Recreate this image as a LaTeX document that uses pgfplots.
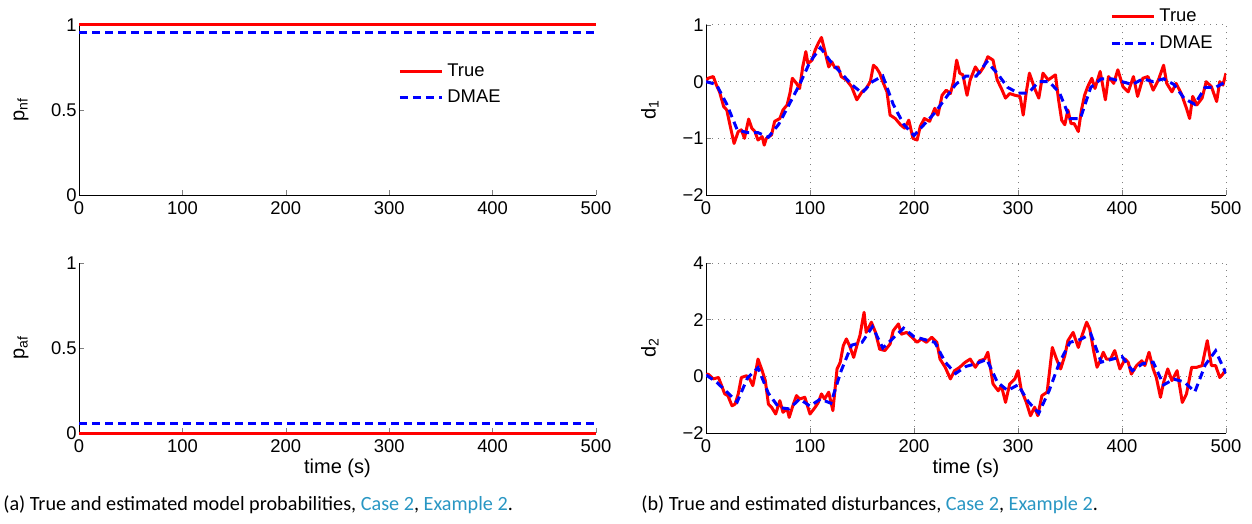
\documentclass[border=0pt]{standalone}
\usepackage{fontspec}
\setmainfont{Liberation Sans}
\newfontfamily\capfont{Carlito}
\usepackage{pgfplots}
\pgfplotsset{compat=1.18}
\definecolor{linkblue}{RGB}{40,150,195}

% d1: true and estimated
\pgfplotstableread{
x y
0 0.02
2 0.06
7 0.09
10 -0.06
13 -0.18
17 -0.44
20 -0.50
23 -0.76
27 -1.09
31 -0.88
34 -0.85
37 -1.00
41 -0.66
44 -0.82
47 -0.88
50 -1.03
54 -0.97
56 -1.12
58 -1.00
63 -0.94
66 -0.70
71 -0.65
74 -0.50
78 -0.41
81 -0.18
83 0.06
87 -0.03
90 -0.12
93 0.26
96 0.53
98 0.32
102 0.38
105 0.56
108 0.68
111 0.78
114 0.56
118 0.26
121 0.35
124 0.24
127 0.26
130 0.09
135 0.03
140 -0.09
145 -0.32
150 -0.18
154 -0.12
158 0.00
161 0.29
164 0.24
167 0.15
170 0.00
174 -0.18
177 -0.59
182 -0.65
187 -0.76
191 -0.82
195 -0.68
199 -1.00
203 -1.03
206 -0.79
210 -0.65
215 -0.70
220 -0.47
223 -0.59
227 -0.24
231 -0.15
235 -0.21
238 0.00
241 0.38
244 0.15
247 0.12
251 -0.24
254 0.03
259 0.26
263 0.15
267 0.26
271 0.44
276 0.38
280 0.03
284 -0.12
288 -0.29
292 -0.21
297 -0.24
302 -0.26
305 -0.59
308 -0.18
311 0.15
316 -0.12
320 -0.29
324 0.15
329 0.03
336 0.12
339 -0.32
342 -0.68
345 -0.76
348 -0.50
351 -0.74
354 -0.74
358 -0.88
361 -0.50
364 -0.24
367 -0.09
371 0.06
374 -0.12
379 0.18
384 -0.32
387 0.09
392 -0.03
396 0.21
401 -0.09
406 -0.18
411 0.09
415 -0.26
420 0.06
425 0.09
430 -0.15
435 0.03
440 0.29
443 -0.03
448 -0.18
452 -0.03
457 -0.21
462 -0.47
465 -0.65
468 -0.26
472 -0.41
477 -0.29
481 0.00
486 -0.09
491 -0.35
494 0.00
497 -0.06
500 0.15
}\dtrueA

\pgfplotstableread{
x y
0 0.00
10 -0.05
20 -0.40
30 -0.85
40 -0.90
50 -0.90
60 -0.98
70 -0.75
80 -0.40
90 -0.05
100 0.35
110 0.60
120 0.35
130 0.15
140 -0.05
150 -0.20
160 0.00
170 0.10
180 -0.40
190 -0.75
200 -0.95
210 -0.75
220 -0.55
230 -0.30
240 -0.05
250 0.10
260 0.10
270 0.35
280 0.15
290 -0.10
300 -0.20
310 -0.20
320 0.00
330 0.00
340 -0.20
350 -0.65
360 -0.65
370 -0.10
380 0.05
390 0.05
400 0.00
410 -0.05
420 0.05
430 0.00
440 0.05
450 -0.05
460 -0.30
470 -0.40
480 -0.10
490 -0.10
500 0.00
}\destA

% d2: true and estimated
\pgfplotstableread{
x y
0 0.05
2 0.08
7 -0.09
12 -0.04
15 -0.33
18 -0.62
21 -0.68
25 -1.04
28 -0.98
31 -0.62
34 -0.04
39 0.02
42 -0.09
45 -0.33
48 0.20
50 0.61
54 0.20
57 -0.15
60 -0.98
63 -1.09
67 -1.33
71 -0.86
74 -1.27
78 -1.15
80 -1.45
84 -0.98
87 -0.68
90 -0.80
95 -0.74
100 -1.33
105 -1.09
108 -0.92
111 -0.62
114 -0.80
118 -0.56
122 -1.21
126 0.26
129 0.49
132 1.08
135 1.32
138 1.08
142 0.67
145 1.08
148 1.44
152 2.26
154 1.55
159 1.91
163 1.55
167 0.96
172 0.91
177 1.14
180 1.61
185 1.85
188 1.49
193 1.55
198 1.38
203 1.20
207 1.32
212 1.20
217 1.38
222 1.20
225 0.61
230 0.32
235 -0.09
239 0.20
244 0.32
249 0.49
254 0.61
259 0.32
263 0.55
268 0.61
271 0.85
276 -0.27
281 -0.51
284 -0.33
288 -0.92
292 -0.27
297 -0.09
300 0.20
303 -0.45
308 -0.92
312 -1.39
316 -1.09
319 -1.39
323 -0.68
328 -0.56
333 1.02
337 0.61
341 0.26
345 0.73
348 1.26
353 1.55
358 1.02
361 1.38
366 1.91
369 1.67
373 0.85
376 0.32
379 0.55
382 0.85
385 0.61
389 0.61
393 0.91
398 0.26
403 0.61
406 0.49
409 0.08
414 0.38
419 0.55
422 0.38
426 0.85
430 0.26
433 -0.04
437 -0.74
440 -0.21
444 0.26
448 -0.15
453 0.20
458 -0.92
462 -0.62
467 0.32
472 0.32
477 0.38
482 1.26
486 0.38
490 0.38
494 -0.04
497 0.08
500 0.26
}\dtrueB

\pgfplotstableread{
x y
0 0.05
10 -0.20
20 -0.55
30 -0.90
40 -0.05
50 0.30
60 -0.60
70 -1.10
80 -1.15
90 -0.80
100 -1.05
110 -0.80
120 -0.95
130 0.20
140 1.10
150 1.20
160 1.75
170 1.00
180 1.35
190 1.70
200 1.40
210 1.30
220 1.20
230 0.50
240 0.10
250 0.35
260 0.45
270 0.60
280 -0.20
290 -0.50
300 -0.30
310 -0.90
320 -1.30
330 -0.50
340 0.50
350 1.20
360 1.30
370 1.50
380 0.50
390 0.60
400 0.70
410 0.20
420 0.45
430 0.50
440 -0.30
450 -0.10
460 -0.20
470 -0.55
480 0.40
490 0.90
500 0.10
}\destB

\pgfplotsset{
  base/.style={
    scale only axis,
    height=85pt,
    xmin=0, xmax=500,
    xtick={0,100,200,300,400,500},
    axis x line*=bottom,
    axis y line*=left,
    tick align=inside,
    major tick length=2.5pt,
    minor tick num=0,
    tick label style={font=\fontsize{9.2}{11}\selectfont},
    label style={font=\fontsize{9.2}{11}\selectfont},
    /pgf/number format/assume math mode=true,
    yticklabel style={inner sep=1pt},
    legend cell align=left,
    legend style={draw=none, fill=none, font=\fontsize{9.2}{11}\selectfont,
      row sep=1.5pt, inner sep=0pt},
    legend image code/.code={\draw[#1] (0pt,0pt) -- (21pt,0pt);},
  },
  truel/.style={red, line width=1.5pt, line join=round},
  estl/.style={blue, line width=1.5pt, dash pattern=on 4pt off 2.5pt},
  dgrid/.style={grid=major, grid style={gray, line width=0.5pt, dash pattern=on 0.5pt off 2.5pt}},
}

\begin{document}
\begin{tikzpicture}
\path[use as bounding box] (0,0) rectangle (626pt,-262pt);

% (a) top: p_nf
\begin{axis}[base, at={(39.5pt,-12.5pt)}, anchor=north west, width=258.5pt,
  ymin=0, ymax=1, ytick={0,0.5,1}, clip=false,
  ylabel={p\textsubscript{nf}},
  every axis y label/.style={at={(axis description cs:-0.112,0.5)}, rotate=90, anchor=center},
  legend style={at={(0.617,0.80)}, anchor=north west}]
  \addplot[truel] coordinates {(0,1) (500,1)};
  \addlegendentry{True}
  \addplot[estl] coordinates {(0,0.953) (500,0.953)};
  \addlegendentry{DMAE}
\end{axis}

% (a) bottom: p_af
\begin{axis}[base, at={(39.5pt,-131.5pt)}, anchor=north west, width=258.5pt,
  ymin=0, ymax=1, ytick={0,0.5,1}, clip=false,
  ylabel={p\textsubscript{af}}, xlabel={time (s)},
  every axis y label/.style={at={(axis description cs:-0.112,0.5)}, rotate=90, anchor=center},
  every axis x label/.style={at={(axis description cs:0.5,-0.205)}, anchor=center}]
  \addplot[truel] coordinates {(0,0) (500,0)};
  \addplot[estl] coordinates {(0,0.053) (500,0.053)};
\end{axis}

% (b) top: d1
\begin{axis}[base, dgrid, at={(353pt,-12.5pt)}, anchor=north west, width=260pt,
  ymin=-2, ymax=1, ytick={-2,-1,0,1}, yticklabels={−2,−1,0,1},
  ylabel={d\textsubscript{1}},
  every axis y label/.style={at={(axis description cs:-0.108,0.5)}, rotate=90, anchor=center},
  legend style={at={(0.777,1.12)}, anchor=north west}]
  \addplot[truel] table {\dtrueA};
  \addlegendentry{True}
  \addplot[estl] table {\destA};
  \addlegendentry{DMAE}
\end{axis}

% (b) bottom: d2
\begin{axis}[base, dgrid, at={(353pt,-131.5pt)}, anchor=north west, width=260pt,
  ymin=-2, ymax=4, ytick={-2,0,2,4}, yticklabels={−2,0,2,4},
  ylabel={d\textsubscript{2}}, xlabel={time (s)},
  every axis y label/.style={at={(axis description cs:-0.108,0.5)}, rotate=90, anchor=center},
  every axis x label/.style={at={(axis description cs:0.5,-0.205)}, anchor=center}]
  \addplot[truel] table {\dtrueB};
  \addplot[estl] table {\destB};
\end{axis}

\node[anchor=west, inner sep=0pt, font=\capfont\fontsize{10.1}{12}\selectfont] at (1.5pt,-252.5pt)
  {(a) True and estimated model probabilities, \textcolor{linkblue}{Case 2}, \textcolor{linkblue}{Example 2}.};
\node[anchor=west, inner sep=0pt, font=\capfont\fontsize{10.1}{12}\selectfont] at (320.5pt,-252.5pt)
  {(b) True and estimated disturbances, \textcolor{linkblue}{Case 2}, \textcolor{linkblue}{Example 2}.};
\end{tikzpicture}
\end{document}
